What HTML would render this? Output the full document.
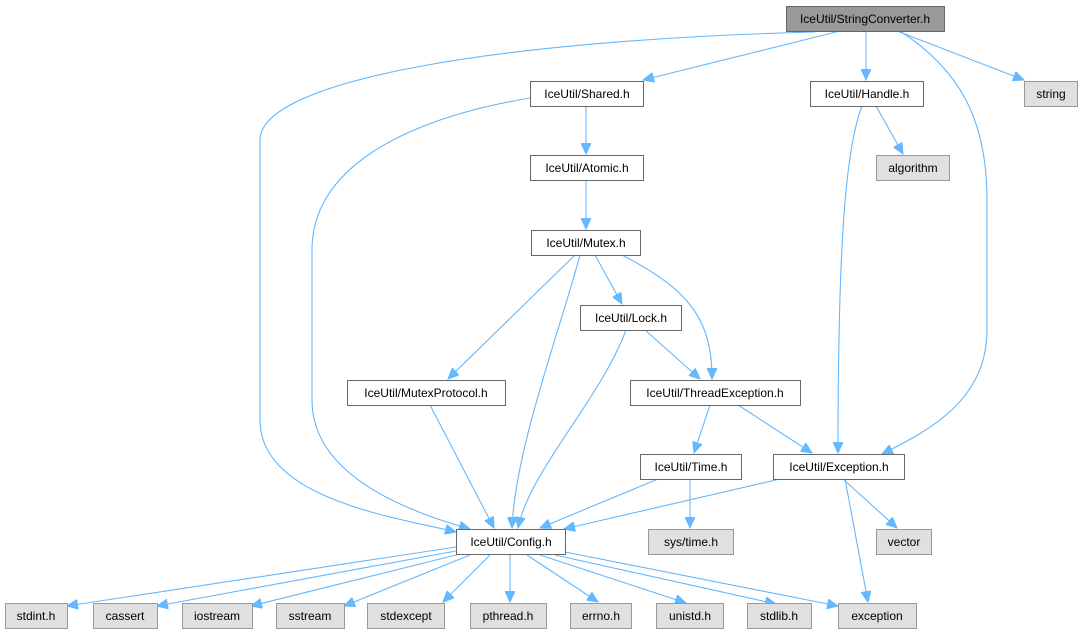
<!DOCTYPE html>
<html><head><meta charset="utf-8"><style>
html,body{margin:0;padding:0;background:#fff;}
svg{display:block;font-family:"Liberation Sans",Arial,sans-serif;font-size:12px;}
.n rect{fill:#fff;stroke:#666;stroke-width:1}
.g rect{fill:#e0e0e0;stroke:#999;stroke-width:1}
text{text-anchor:middle;fill:#000}
path.e{fill:none;stroke:#63b8ff;stroke-width:1.1}
</style></head><body>
<svg width="1084" height="635" viewBox="0 0 1084 635">
<defs><marker id="a" markerUnits="userSpaceOnUse" markerWidth="12" markerHeight="10" refX="11" refY="5" orient="auto"><path d="M0,0 L11,5 L0,10 z" fill="#63b8ff" stroke="#63b8ff"/></marker></defs>
<g marker-end="url(#a)">
<path class="e" d="M815,32 C500,40 260,80 260,140 L260,420 C260,500 400,518 456,532"/>
<path class="e" d="M840,31 L643,80"/>
<path class="e" d="M866,31 L866,80"/>
<path class="e" d="M897,31 L1024,80"/>
<path class="e" d="M900,31 C960,70 987,120 987,200 L987,330 C987,400 930,430 882,454"/>
<path class="e" d="M586,106 L586,154"/>
<path class="e" d="M530,98 C400,120 312,170 312,250 L312,400 C312,480 420,515 470,529"/>
<path class="e" d="M876,106 L903,154"/>
<path class="e" d="M862,106 C845,150 838,250 838,453"/>
<path class="e" d="M586,180 L586,229"/>
<path class="e" d="M575,255 L448,379"/>
<path class="e" d="M580,255 C560,330 515,450 512,528"/>
<path class="e" d="M595,255 L622,304"/>
<path class="e" d="M622,255 C690,290 712,320 712,379"/>
<path class="e" d="M645,330 L700,379"/>
<path class="e" d="M626,330 C600,400 530,470 518,528"/>
<path class="e" d="M430,405 L494,528"/>
<path class="e" d="M710,405 L694,453"/>
<path class="e" d="M738,405 L812,453"/>
<path class="e" d="M658,479 L540,528"/>
<path class="e" d="M690,479 L690,528"/>
<path class="e" d="M780,479 L564,529"/>
<path class="e" d="M843,479 L897,528"/>
<path class="e" d="M845,479 L868,602"/>
<path class="e" d="M456,547 L67,606"/>
<path class="e" d="M456,551 L157,606"/>
<path class="e" d="M460,554 L251,606"/>
<path class="e" d="M470,555 L344,606"/>
<path class="e" d="M490,555 L443,602"/>
<path class="e" d="M510,555 L510,602"/>
<path class="e" d="M527,555 L598,602"/>
<path class="e" d="M540,555 L686,603"/>
<path class="e" d="M555,555 L776,604"/>
<path class="e" d="M565,552 L838,606"/>
</g>
<g><rect x="786.5" y="6.5" width="158" height="25" fill="#999" stroke="#666"/><text x="865" y="23">IceUtil/StringConverter.h</text></g>
<g class="n"><rect x="530.5" y="81.5" width="113" height="25"/><text x="587" y="98">IceUtil/Shared.h</text></g>
<g class="n"><rect x="810.5" y="81.5" width="113" height="25"/><text x="867" y="98">IceUtil/Handle.h</text></g>
<g class="g"><rect x="1024.5" y="81.5" width="53" height="25"/><text x="1051" y="98">string</text></g>
<g class="n"><rect x="530.5" y="155.5" width="113" height="25"/><text x="587" y="172">IceUtil/Atomic.h</text></g>
<g class="g"><rect x="876.5" y="155.5" width="73" height="25"/><text x="913" y="172">algorithm</text></g>
<g class="n"><rect x="531.5" y="230.5" width="109" height="25"/><text x="586" y="247">IceUtil/Mutex.h</text></g>
<g class="n"><rect x="580.5" y="305.5" width="101" height="25"/><text x="631" y="322">IceUtil/Lock.h</text></g>
<g class="n"><rect x="347.5" y="380.5" width="158" height="25"/><text x="426" y="397">IceUtil/MutexProtocol.h</text></g>
<g class="n"><rect x="630.5" y="380.5" width="170" height="25"/><text x="715" y="397">IceUtil/ThreadException.h</text></g>
<g class="n"><rect x="640.5" y="454.5" width="101" height="25"/><text x="691" y="471">IceUtil/Time.h</text></g>
<g class="n"><rect x="773.5" y="454.5" width="131" height="25"/><text x="839" y="471">IceUtil/Exception.h</text></g>
<g class="n"><rect x="456.5" y="529.5" width="109" height="25"/><text x="511" y="546">IceUtil/Config.h</text></g>
<g class="g"><rect x="648.5" y="529.5" width="85" height="25"/><text x="691" y="546">sys/time.h</text></g>
<g class="g"><rect x="876.5" y="529.5" width="55" height="25"/><text x="904" y="546">vector</text></g>
<g class="g"><rect x="5.5" y="603.5" width="62" height="25"/><text x="36" y="620">stdint.h</text></g>
<g class="g"><rect x="93.5" y="603.5" width="64" height="25"/><text x="125" y="620">cassert</text></g>
<g class="g"><rect x="182.5" y="603.5" width="70" height="25"/><text x="217" y="620">iostream</text></g>
<g class="g"><rect x="276.5" y="603.5" width="68" height="25"/><text x="310" y="620">sstream</text></g>
<g class="g"><rect x="367.5" y="603.5" width="77" height="25"/><text x="406" y="620">stdexcept</text></g>
<g class="g"><rect x="470.5" y="603.5" width="76" height="25"/><text x="508" y="620">pthread.h</text></g>
<g class="g"><rect x="570.5" y="603.5" width="61" height="25"/><text x="601" y="620">errno.h</text></g>
<g class="g"><rect x="656.5" y="603.5" width="67" height="25"/><text x="690" y="620">unistd.h</text></g>
<g class="g"><rect x="747.5" y="603.5" width="64" height="25"/><text x="779" y="620">stdlib.h</text></g>
<g class="g"><rect x="838.5" y="603.5" width="78" height="25"/><text x="877" y="620">exception</text></g>
</svg>
</body></html>
